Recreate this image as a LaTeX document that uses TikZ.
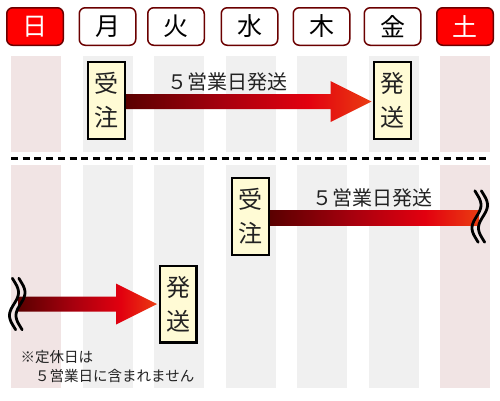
\documentclass[tikz,border=0pt]{standalone}
\usepackage{fontspec}
\setmainfont{Noto Sans CJK JP}
\usetikzlibrary{calc}
\definecolor{hdborder}{HTML}{6B0000}
\definecolor{hdred}{HTML}{FF0000}
\definecolor{stripegray}{HTML}{F0F0F0}
\definecolor{stripepink}{HTML}{F1E4E4}
\definecolor{boxyellow}{HTML}{FFFBD5}
\definecolor{txtdark}{HTML}{222222}
\definecolor{ar0}{HTML}{5A0000}
\definecolor{ar1}{HTML}{A8000E}
\definecolor{ar2}{HTML}{E2000F}
\definecolor{ar3}{HTML}{EA3C12}
\pgfdeclarehorizontalshading{redarrow}{100bp}{color(0bp)=(ar0); color(25bp)=(ar0); color(45bp)=(ar1); color(62bp)=(ar2); color(75bp)=(ar3); color(100bp)=(ar3)}
\tikzset{
  dayhead/.style={draw=hdborder, line width=1.5pt, rounded corners=6pt, fill=white,
    minimum width=56.5pt, minimum height=37.5pt, inner sep=0pt,
    font=\fontsize{25}{25}\selectfont, text=black},
  dayoff/.style={dayhead, fill=hdred, text=white},
  evbox/.style={draw=black, line width=2.4pt, fill=boxyellow, minimum width=36.6pt,
    minimum height=76.6pt, inner sep=0pt, align=center,
    font=\fontsize{24}{34}\selectfont, text=txtdark},
  arrowfill/.style={shading=redarrow, draw=none},
  lbl/.style={font=\fontsize{20}{20}\selectfont, text=txtdark, inner sep=0pt},
  wave/.pic={
    \foreach \dx in {0,6.5}{
      \draw[line width=2.8pt, line cap=round, black]
        plot[domain=-0.06:1.06, samples=40, smooth] ({\dx+4.5*sin(360*\x)}, {46*\x});
    }
  }
}
\begin{document}
\begin{tikzpicture}[x=1pt,y=-1pt]
\useasboundingbox (0,0) rectangle (500,400);
\fill[white] (0,0) rectangle (500,400);
% stripes
\foreach \i in {0,...,6}{
  \pgfmathsetmacro{\cx}{36+71.5*\i}
  \ifnum\i=0 \def\sc{stripepink}\else\ifnum\i=6 \def\sc{stripepink}\else\def\sc{stripegray}\fi\fi
  \fill[\sc] (\cx-25,56) rectangle (\cx+25,152);
  \fill[\sc] (\cx-25,165) rectangle (\cx+25,388);
}
% headers
\node[dayoff]  (h0) at (35,26.5)    {日};
\node[dayhead] (h1) at (107.5,26.5) {月};
\node[dayhead] (h2) at (176,26.5)   {火};
\node[dayhead] (h3) at (249.5,26.5) {水};
\node[dayhead] (h4) at (321.5,26.5) {木};
\node[dayhead] (h5) at (392.5,26.5) {金};
\node[dayoff]  (h6) at (465,26.5)   {土};
% dashed separator
\draw[line width=3pt, dash pattern=on 7pt off 4.7pt, black] (11,158.5) -- (490,158.5);
% upper row
\node[evbox] (ju1) at (106.5,100.5) {受\\注};
\node[evbox] (ship1) at (392.5,100.5) {発\\送};
\coordinate (a1s) at ($(ju1.east)+(0,1)$);
\coordinate (a1t) at ($(ship1.west)+(-1.5,1)$);
\shade[arrowfill] ($(a1s)+(0,-7.5)$) -- ($(a1t)+(-41,-7.5)$) -- ($(a1t)+(-41,-20.5)$)
  -- (a1t) -- ($(a1t)+(-41,20.5)$) -- ($(a1t)+(-41,7.5)$) -- ($(a1s)+(0,7.5)$) -- cycle;
\node[lbl] (l1) at (227,82) {５営業日発送};
% lower row (right part)
\node[evbox] (ju2) at (250.5,216.5) {受\\注};
\coordinate (a2s) at ($(ju2.east)+(0,1)$);
\coordinate (a2e) at (479,217.5);
\shade[arrowfill] ($(a2s)+(0,-7.5)$) rectangle ($(a2e)+(0,7.5)$);
\pic at (476.5,193.5) {wave};
\node[lbl] (l2) at (372,198) {５営業日発送};
% lower row (left part)
\node[evbox] (ship2) at (178,304) {発\\送};
\coordinate (a3s) at (18,304);
\coordinate (a3t) at ($(ship2.west)+(-1.5,0)$);
\shade[arrowfill] ($(a3s)+(0,-7.5)$) -- ($(a3t)+(-41,-7.5)$) -- ($(a3t)+(-41,-20.5)$)
  -- (a3t) -- ($(a3t)+(-41,20.5)$) -- ($(a3t)+(-41,7.5)$) -- ($(a3s)+(0,7.5)$) -- cycle;
\pic at (14,281) {wave};
% note
\node[anchor=north west, align=left, inner sep=0pt, text=txtdark,
  font=\fontsize{14.5}{19.5}\selectfont] (note) at (20.5,350) {※定休日は\\　５営業日に含まれません};
\end{tikzpicture}
\end{document}
